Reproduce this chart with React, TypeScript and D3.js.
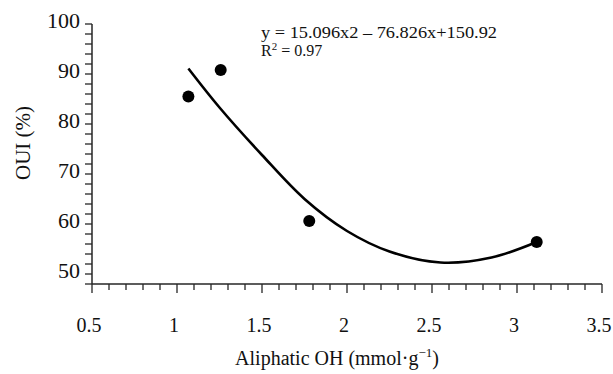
import * as d3 from 'd3';

// measured points (Aliphatic OH, OUI %)
const pointX = [1.067, 1.257, 1.778, 3.116];
const pointY = [85.5, 90.8, 60.6, 56.4];

// trend curve as it is drawn in the figure
const curveX = [1.067, 1.25, 1.5, 1.75, 2.0, 2.25, 2.55, 2.85, 3.116];
const curveY = [91.1, 83.3, 73.8, 65.0, 58.6, 54.5, 52.3, 53.3, 56.4];

const xLabels = ['0.5', '1', '1.5', '2', '2.5', '3', '3.5'];
const yLabels = ['50', '60', '70', '80', '90', '100'];

const W = 613;
const H = 374;
const font = '"Liberation Serif", "Times New Roman", serif';

export default function App() {
  const x = d3.scaleLinear().domain([0.5, 3.5]).range([92, 602]);
  const y = d3.scaleLinear().domain([48, 100]).range([284, 24]);

  const xMinor = d3.range(5, 36).map((i) => i / 10);
  const yMinor = d3.range(48, 101, 2);

  const line = d3
    .line<number>()
    .x((_, i) => x(curveX[i]))
    .y((d) => y(d))
    .curve(d3.curveCatmullRom.alpha(0.5));

  const axisColor = '#262626';

  return (
    <div style={{ position: 'absolute', left: 0, top: 0 }}>
      <svg width={W} height={H} style={{ display: 'block', background: '#fff' }} fontFamily={font}>
        {/* y axis */}
        <line x1={x(0.5)} x2={x(0.5)} y1={y(100)} y2={y(48)} stroke={axisColor} strokeWidth={1.5} />
        {yMinor.map((v) => (
          <line key={'yt' + v} x1={x(0.5) - 7} x2={x(0.5)} y1={y(v)} y2={y(v)} stroke={axisColor} strokeWidth={1.3} />
        ))}
        {yLabels.map((l) => (
          <text key={'yl' + l} x={80} y={y(+l) - 4} textAnchor="end" dominantBaseline="central" fontSize={22} fill="#111">
            {l}
          </text>
        ))}

        {/* x axis */}
        <line x1={x(0.5)} x2={x(3.5)} y1={y(48)} y2={y(48)} stroke={axisColor} strokeWidth={1.5} />
        {xMinor.map((v, i) => {
          const major = (i % 5) === 0;
          return (
            <line
              key={'xt' + i}
              x1={x(v)}
              x2={x(v)}
              y1={y(48)}
              y2={y(48) + (major ? 9 : 6)}
              stroke={axisColor}
              strokeWidth={1.3}
            />
          );
        })}
        {xLabels.map((l) => (
          <text key={'xl' + l} x={x(+l) - 3} y={332} textAnchor="middle" fontSize={20} fill="#111">
            {l}
          </text>
        ))}

        {/* axis titles */}
        <text
          transform={`translate(30,143) rotate(-90)`}
          textAnchor="middle"
          fontSize={21}
          fill="#111"
        >
          OUI (%)
        </text>
        <text x={337} y={365} textAnchor="middle" fontSize={20} fill="#111">
          Aliphatic OH (mmol·g
          <tspan dy={-8} fontSize={13}>−1</tspan>
          <tspan dy={8}>)</tspan>
        </text>

        {/* trend curve */}
        <path d={line(curveY) || ''} fill="none" stroke="#000" strokeWidth={2.6} />

        {/* points */}
        {pointX.map((px, i) => (
          <circle key={'p' + i} cx={x(px)} cy={y(pointY[i])} r={6} fill="#000" />
        ))}

        {/* equation */}
        <text x={261} y={38} fontSize={16} fill="#111" textLength={236} lengthAdjust="spacingAndGlyphs">
          y = 15.096x2 – 76.826x+150.92
        </text>
        <text x={261} y={56} fontSize={16} fill="#111">
          R<tspan dy={-6} fontSize={11}>2</tspan>
          <tspan dy={6}> = 0.97</tspan>
        </text>
      </svg>
    </div>
  );
}
